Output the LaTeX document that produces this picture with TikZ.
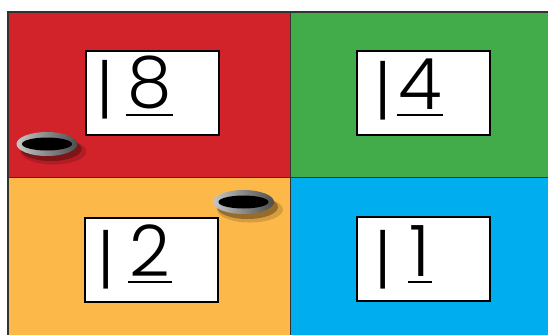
\documentclass[tikz,border=0pt]{standalone}
\usepackage{fontspec}
\newfontfamily\numfont{Poppins Light}
\usetikzlibrary{positioning,shapes.geometric,shadows}
\definecolor{quadred}{RGB}{210,35,42}
\definecolor{quadgreen}{RGB}{67,172,74}
\definecolor{quadorange}{RGB}{253,184,74}
\definecolor{quadblue}{RGB}{0,174,239}
\definecolor{framegray}{RGB}{51,51,51}
\tikzset{
  numbox/.style={draw=black, line width=2pt, fill=white, minimum width=133pt, minimum height=84pt, inner sep=0pt},
  digit/.style={font=\numfont\fontsize{71}{71}\selectfont, inner xsep=1.5pt, inner ysep=5.5pt, anchor=south},
  barmark/.style={font=\numfont\fontsize{66}{66}\selectfont, inner sep=0pt},
  uline/.style={line width=2.2pt},
  holering/.style={ellipse, minimum width=61pt, minimum height=24pt, inner sep=0pt, shade, left color=gray!45, middle color=white, right color=gray!60!black,
    drop shadow={shadow xshift=6pt, shadow yshift=-7pt, shadow scale=1.08, opacity=0.15, fill=black},
    drop shadow={shadow xshift=4pt, shadow yshift=-5pt, opacity=0.3, fill=black}},
  holepit/.style={ellipse, fill=black, minimum width=50pt, minimum height=13pt, inner sep=0pt},
}
\begin{document}
\begin{tikzpicture}[x=1pt,y=-1pt]
        \useasboundingbox (0,0) rectangle (548,335);
        % quadrants
        \fill[quadred] (8,12) rectangle (290,177);
        \fill[quadgreen] (290,12) rectangle (548,177);
        \fill[quadorange] (8,177) rectangle (290,335);
        \fill[quadblue] (290,177) rectangle (548,335);
        \draw[framegray, line width=1.2pt] (8,335) -- (8,12) -- (548,12);
        \draw[framegray, line width=1pt] (8,177) -- (548,177);
        \draw[framegray, line width=1pt] (290,12) -- (290,335);
        %
        % number boxes
        \node[numbox] (box8) at (152.5,93) {};
        \node[numbox] (box4) at (423,92.5) {};
        \node[numbox] (box2) at (151.5,259.5) {};
        \node[numbox] (box1) at (423.5,259) {};
        %
        \node[barmark] (bar8) at (105,90) {|};
        \node[digit] (d8) at (149.5,115) {8};
        \draw[uline] (d8.south west) -- (d8.south east);
        %
        \node[barmark] (bar4) at (383,90.5) {|};
        \node[digit] (d4) at (420,115) {4};
        \draw[uline] (d4.south west) -- (d4.south east);
        %
        \node[barmark] (bar2) at (106,260) {|};
        \node[digit] (d2) at (150,282) {2};
        \draw[uline] (d2.south west) -- (d2.south east);
        %
        \node[barmark] (bar1) at (383,260) {|};
        \node[digit] (d1) at (420,282) {1};
        \draw[uline] (d1.south west) -- (d1.south east);
        %
        % holes
        \node[holering] (hole1) at (47,144) {};
        \node[holepit] (pit1) at (hole1) {};
        \node[holering] (hole2) at (243.5,202) {};
        \node[holepit] (pit2) at (hole2) {};
            \end{tikzpicture}
\end{document}
